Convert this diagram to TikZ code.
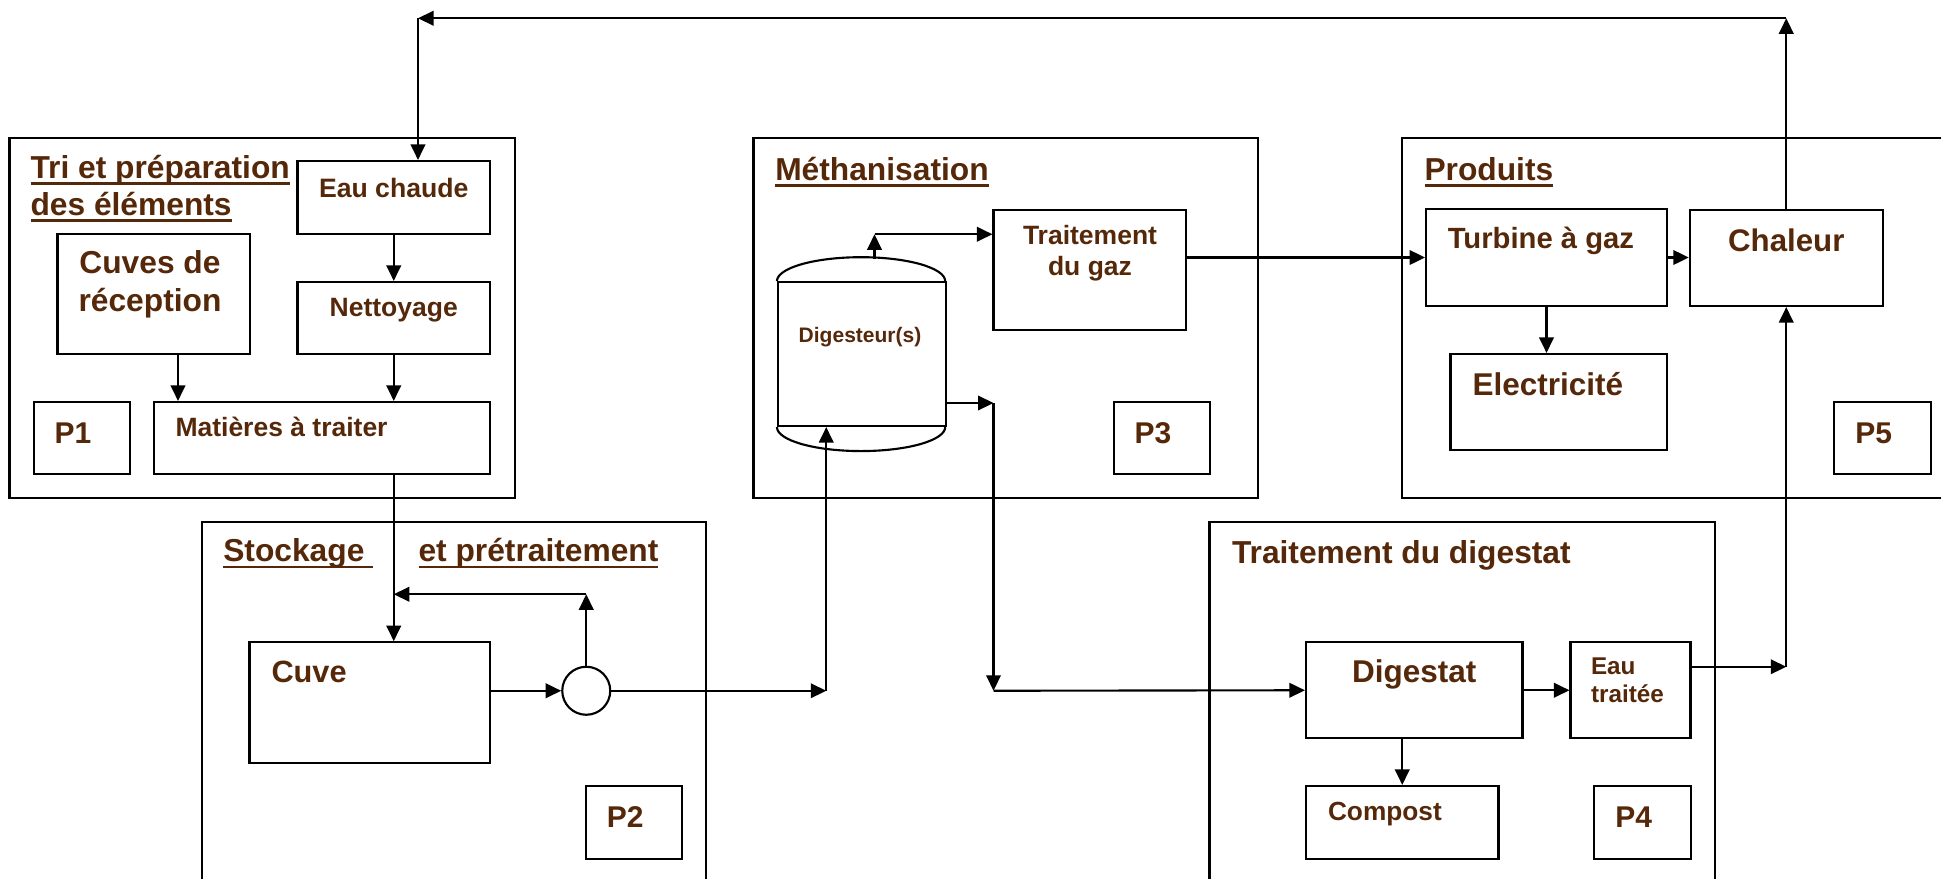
\documentclass[tikz,border=0pt]{standalone}
\usepackage{fontspec}
\setmainfont{Liberation Sans}
\usetikzlibrary{arrows.meta}

\definecolor{txtbrown}{RGB}{85,40,10}
\newsavebox\undlbox
\newcommand{\undl}[1]{\sbox\undlbox{#1}\rlap{\vrule height -1.5pt depth 2.6pt width \wd\undlbox}\usebox\undlbox}

\begin{document}
\begin{tikzpicture}[x=1pt, y=-1pt, % y grows downwards
    box/.style={draw, line width=0.85pt, inner sep=0pt},
    arr/.style={-{Triangle[length=6.2pt, width=5.8pt]}, line width=0.85pt},
    lbl/.style={inner sep=0pt, text=txtbrown},
    fs/.style 2 args={font={\bfseries\fontsize{#1}{#2}\selectfont}}]

    % Page
    \useasboundingbox (0,0) rectangle (776.4,351.2);
    \clip (0,0) rectangle (776.4,351.2);

    % Section frames (P2, P4 and P5 run past the page edge)
    \foreach \xa/\ya/\xb/\yb in {
            3.8/55.2/206/199.2,     % P1
            80.8/208.9/282.4/360,   % P2
            301.4/55.2/503.2/199.2, % P3
            483.8/208.9/685.9/360,  % P4
            560.9/55.2/790/199.2    % P5
        } {
        \draw[line width=0.85pt] (\xa,\ya) rectangle (\xb,\yb);
    }

    % Section titles (two-line nodes sit on their last baseline)
    \node[lbl, fs={12.7pt}{14.7pt}, anchor=base west, align=left] (ttri) at (12,86)
        {\undl{Tri et préparation}\\\undl{des éléments}};
    \node[lbl, fs={12.7pt}{14.7pt}, anchor=base west] (tsto) at (89.1,224.7) {\undl{Stockage~}};
    \node[lbl, fs={12.7pt}{14.7pt}, anchor=base west] (tpre) at (167.2,224.7) {\undl{et prétraitement}};
    \node[lbl, fs={12.7pt}{14.7pt}, anchor=base west] (tmet) at (309.9,72) {\undl{Méthanisation}};
    \node[lbl, fs={12.7pt}{14.7pt}, anchor=base west] (tpro) at (569.6,72) {\undl{Produits}};
    \node[lbl, fs={12.7pt}{14.7pt}, anchor=base west] (tdig) at (492.6,225.3) {Traitement du digestat};

    % P1: tri et preparation
    \node[box, minimum width=77pt, minimum height=29.2pt] (eau) at (157.5,79) {};
    \node[box, minimum width=77pt, minimum height=48pt] (cuves) at (61.5,117.6) {};
    \node[box, minimum width=77pt, minimum height=28.8pt] (net) at (157.5,127.2) {};
    \node[box, minimum width=134.4pt, minimum height=28.8pt] (mat) at (128.8,175.2) {};
    \node[lbl, fs={10.65pt}{12.8pt}, anchor=base] (teau) at (157.5,78.9) {Eau chaude};
    \node[lbl, fs={12.7pt}{15.4pt}, anchor=base, align=center] (tcuves) at (60,124.7) {Cuves de\\réception};
    \node[lbl, fs={10.6pt}{12.7pt}, anchor=base] (tnet) at (157.5,126.7) {Nettoyage};
    \node[lbl, fs={10.6pt}{12.7pt}, anchor=base west] (tmat) at (70,174.4) {Matières à traiter};

    % P2: stockage
    \node[box, minimum width=96.3pt, minimum height=48.2pt] (cuve) at (147.95,281) {};
    \node[box, circle, minimum size=19.2pt] (pump) at (234.5,276.3) {};
    \node[lbl, fs={12.3pt}{14.8pt}, anchor=base west] (tcuve) at (108.4,272.9) {Cuve};

    % P3: methanisation
    \node[box, minimum width=67.3pt, minimum height=57.5pt] (dig) at (344.85,141.65) {};
    \draw[line width=0.85pt] (dig.north west) arc[start angle=180, end angle=360, x radius=33.65, y radius=9.6];
    \draw[line width=0.85pt] (dig.south west) arc[start angle=180, end angle=0, x radius=33.65, y radius=9.6];
    \node[box, minimum width=77pt, minimum height=48pt] (tgaz) at (435.9,108) {};
    \node[lbl, fs={8.4pt}{10pt}, anchor=base] (tdigs) at (344,136.9) {Digesteur(s)};
    \node[lbl, fs={10.6pt}{12.7pt}, anchor=base, align=center] (ttgaz) at (436,110.3) {Traitement\\du gaz};

    % P4: digestat
    \node[box, minimum width=86.6pt, minimum height=38.4pt] (digst) at (565.7,276.1) {};
    \node[box, minimum width=48pt, minimum height=38.4pt] (eaut) at (652.2,276.1) {};
    \node[box, minimum width=77pt, minimum height=29.2pt] (comp) at (560.9,329) {};
    \node[lbl, fs={12.6pt}{15pt}, anchor=base] (tdigst) at (565.7,272.9) {Digestat};
    \node[lbl, fs={9.7pt}{11.5pt}, anchor=base west, align=left] (teaut) at (636.2,281.1) {Eau\\traitée};
    \node[lbl, fs={10.5pt}{12.6pt}, anchor=base west] (tcomp) at (531,328.3) {Compost};

    % P5: produits
    \node[box, minimum width=96.3pt, minimum height=38.6pt] (turb) at (618.6,103) {};
    \node[box, minimum width=77.1pt, minimum height=38.4pt] (chal) at (714.5,103.2) {};
    \node[box, minimum width=86.6pt, minimum height=38.4pt] (elec) at (623.5,160.8) {};
    \node[lbl, fs={11.7pt}{14pt}, anchor=base west] (tturb) at (578.9,99.3) {Turbine à gaz};
    \node[lbl, fs={12.5pt}{15pt}, anchor=base] (tchal) at (714.5,100.7) {Chaleur};
    \node[lbl, fs={12.6pt}{15pt}, anchor=base west] (telec) at (588.8,158) {Electricité};

    % Step labels P1 ... P5
    \foreach \n/\x/\y in {1/32.75/175.2, 2/253.6/329, 3/464.7/175.2, 4/657/329, 5/753/175.2} {
        \node[box, minimum width=38.5pt, minimum height=29pt] (p\n) at (\x,\y) {};
        \node[lbl, fs={12pt}{14pt}, anchor=base west] (tp\n) at ([xshift=8.6pt, yshift=-2pt]p\n.west) {P\n};
    }

    % Bends of the connectors
    \coordinate (ctop) at (714.5,7.3);
    \coordinate (ltop) at (167.2,7.3);
    \coordinate (fbk) at (234.5,237.7);
    \coordinate (inc) at (330.5,276.3);
    \coordinate (domtop) at (349.8,103.4);
    \coordinate (gasc) at (349.8,93.7);
    \coordinate (doc) at (397.4,161.2);
    \coordinate (dlc) at (397.4,276.3);
    \coordinate (erc) at (714.5,266.7);

    % Connectors
    \draw[arr] (eau) -- (net);
    \draw[arr] ([xshift=9.7pt]cuves.south) -- ([xshift=9.7pt]cuves.south |- mat.north);
    \draw[arr] (net) -- (net |- mat.north);
    \draw[arr] (net |- mat.south) -- (net |- cuve.north);
    \draw[arr] (cuve.east |- pump) -- (pump.west);
    \draw[arr] (pump.north) -- (fbk);
    \draw[arr] (fbk) -- (fbk -| net);
    \draw[arr] (pump.east) -- (inc);
    \draw[arr] (inc) -- (inc |- dig.south);
    \draw[arr] (domtop) -- (gasc);
    \draw[arr] (gasc) -- (gasc -| tgaz.west);
    \draw[arr] (dig.east |- doc) -- (doc);
    \draw[arr] (doc) -- (dlc);
    \draw[arr] (dlc) -- (digst.west);
    \draw[arr] (tgaz.east |- turb) -- (turb.west);
    \draw[arr] (turb.east) -- (turb.east -| chal.west);
    \draw[arr] (turb.south) -- (turb.south |- elec.north);
    \draw[arr] (digst.east) -- (eaut.west);
    \draw[arr] (digst.south -| comp.north) -- (comp.north);
    \draw[arr] (eaut.east |- erc) -- (erc);
    \draw[arr] (erc) -- (chal.south);
    \draw[arr] (chal.north) -- (ctop);
    \draw[arr] (ctop) -- (ltop);
    \draw[arr] (ltop) -- (ltop |- eau.north);

\end{tikzpicture}
\end{document}
